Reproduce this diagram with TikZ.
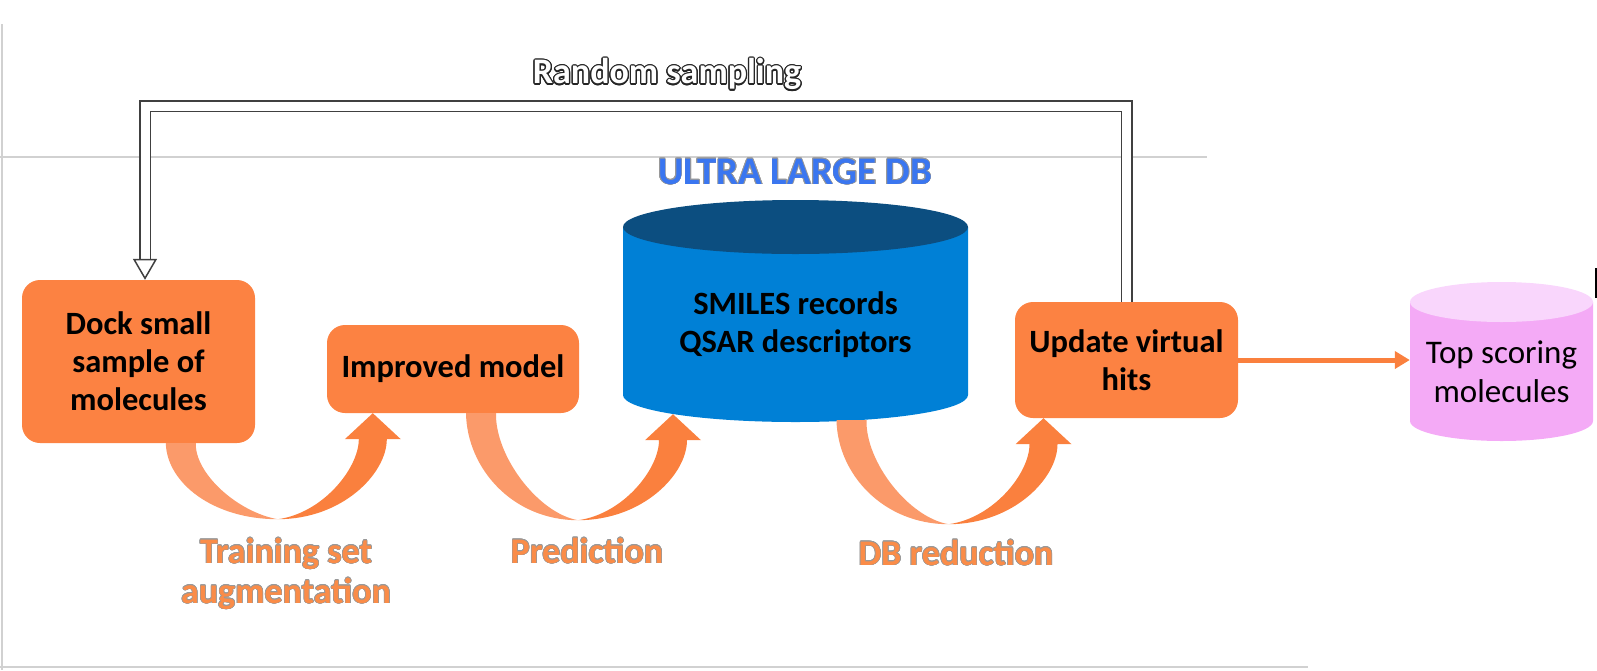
\documentclass[tikz,border=0pt]{standalone}
\usepackage{fontspec}
\setmainfont{Carlito}
\usepackage{contour}
\usetikzlibrary{arrows.meta}
\usetikzlibrary{calc}
\definecolor{boxorange}{RGB}{252,130,66}
\definecolor{bandlight}{RGB}{251,154,106}
\definecolor{banddark}{RGB}{250,128,62}
\definecolor{labelorange}{RGB}{250,140,72}
\definecolor{dbblue}{RGB}{0,128,214}
\definecolor{dbtop}{RGB}{12,78,128}
\definecolor{ultrablue}{RGB}{58,118,240}
\definecolor{pinkbody}{RGB}{244,170,246}
\definecolor{pinktop}{RGB}{249,214,252}
\newcommand{\boxfont}{\bfseries\fontsize{32.5}{38}\selectfont}
\newcommand{\labfont}{\bfseries\fontsize{36}{40}\selectfont}
\newcommand{\halo}[1]{{\contourlength{0.6pt}\contour{black!40}{#1}}}

\begin{document}
\begin{tikzpicture}[x=1pt, y=-1pt,
  stepbox/.style={rectangle, rounded corners=18pt, fill=boxorange, align=center, font=\boxfont, inner sep=0pt},
  dbtext/.style={rectangle, align=center, inner sep=0pt},
  steplabel/.style={align=center, font=\labfont, text=labelorange, inner sep=0pt},
  loopline/.style={draw=black!75, line width=1.5pt, double=white, double distance=9pt, -{Triangle[open, length=21pt, width=24pt]}},
  hitline/.style={draw=banddark, line width=5pt, -{Triangle[length=15pt, width=17pt]}},
  frameline/.style={draw=black!18, line width=2pt},
  pics/uparrow/.style={code={
    \fill [bandlight] (-207,#1) .. controls (-206,{(#1)+0.52*(106-(#1))}) and (-160,106) .. (-95,106)
      .. controls (-135,99) and (-178,{(#1)+0.4*(106-(#1))}) .. (-177,#1) -- cycle;
    \fill [banddark] (-95,106) .. controls (-30,106) and (14,60) .. (14,26) -- (28,26) -- (0,0)
      -- (-28,26) -- (-14,26) .. controls (-14,55) and (-50,100) .. (-95,106) -- cycle;
  }}]
\useasboundingbox (0,0) rectangle (1597,670);

% slide frame
\draw [frameline] (2,24) -- (2,670);
\draw [frameline, line width=1.5pt] (0,157) -- (1207,157);
\draw [frameline] (0,667) -- (1308,667);
\draw [black, line width=2pt] (1596,268) -- (1596,298);

% the two cylinders
\fill [dbblue] (623,227) -- (623,395) arc [start angle=180, end angle=0, x radius=172.5, y radius=27] -- (968,227) -- cycle;
\fill [dbtop] (795.5,227) ellipse [x radius=172.5, y radius=27];
\fill [pinkbody] (1410,302) -- (1410,421) arc [start angle=180, end angle=0, x radius=91.5, y radius=20] -- (1593,302) -- cycle;
\fill [pinktop] (1501.5,302) ellipse [x radius=91.5, y radius=20];

\node [stepbox, minimum width=233pt, minimum height=163pt] (B1) at (138.5,361.5) {Dock small\\sample of\\molecules};
\node [stepbox, minimum width=252pt, minimum height=88pt] (B2) at (453,369) {Improved model};
\node [dbtext, font=\boxfont, minimum width=345pt, minimum height=195pt] (C1) at (795.5,324.5) {SMILES records\\QSAR descriptors};
\node [stepbox, minimum width=223pt, minimum height=116pt] (B3) at (1126.5,360) {Update virtual\\hits};
\node [dbtext, font=\fontsize{33}{39}\selectfont, minimum width=183pt, minimum height=139pt] (C2) at (1501.5,371.5) {Top scoring\\molecules};

\node [font=\bfseries\fontsize{39}{44}\selectfont, text=ultrablue] (T1) at (795,172) {\halo{ULTRA LARGE DB}};
\node [font=\labfont, text=white] (T2) at (667,75) {{\contourlength{1.3pt}\contour{black!85}{Random sampling}}};
\node [steplabel] (L1) at (286,574) {\halo{Training set}\\\halo{augmentation}};
\node [steplabel] (L2) at (587,551) {\halo{Prediction}};
\node [steplabel] (L3) at (956,553) {\halo{DB reduction}};

% feedback loop
\coordinate (K1) at (145,106);
\draw [loopline] (B3.north) |- (K1) -- (K1 |- B1.north);
\draw [hitline] (B3.east) -- (B3.east -| C2.west);

% curved block arrows
\pic at ($(B2.south west)+(46,0)$) {uparrow=30};
\pic at ($(C1.south)+(-122.5,-8)$) {uparrow=-1};
\pic at ($(B3.south)+(-83,0)$) {uparrow=2};
\end{tikzpicture}
\end{document}
